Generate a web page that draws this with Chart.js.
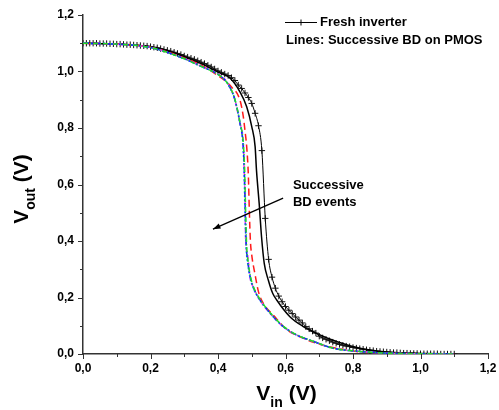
<!DOCTYPE html>
<html>
<head>
<meta charset="utf-8">
<script src="https://cdn.jsdelivr.net/npm/chart.js@4/dist/chart.umd.min.js"></script>
<style>
html,body{margin:0;padding:0;background:#fff;}
#wrap{width:499px;height:410px;position:relative;}
</style>
</head>
<body>
<div id="wrap"><canvas id="c" width="499" height="410"></canvas></div>
<script>
// ---- Data ----
const freshVin = [0.00,0.01,0.02,0.03,0.04,0.05,0.06,0.07,0.08,0.09,0.10,0.11,0.12,0.13,0.14,0.15,0.16,0.17,0.18,0.19,
  0.20,0.21,0.22,0.23,0.24,0.25,0.26,0.27,0.28,0.29,0.30,0.31,0.32,0.33,0.34,0.35,0.36,0.37,0.38,0.39,
  0.40,0.41,0.42,0.43,0.44,0.45,0.46,0.47,0.48,0.49,0.50,0.51,0.52,0.53,0.54,0.55,0.56,0.57,0.58,0.59,
  0.60,0.61,0.62,0.63,0.64,0.65,0.66,0.67,0.68,0.69,0.70,0.71,0.72,0.73,0.74,0.75,0.76,0.77,0.78,0.79,
  0.80,0.81,0.82,0.83,0.84,0.85,0.86,0.87,0.88,0.89,0.90,0.91,0.92,0.93,0.94,0.95,0.96,0.97,0.98,0.99,
  1.00,1.01,1.02,1.03,1.04,1.05,1.06,1.07,1.08,1.09,1.10];
const freshVout = [1.100,1.100,1.100,1.100,1.100,1.099,1.099,1.099,1.098,1.098,1.097,1.097,1.096,1.095,1.095,1.094,1.093,1.092,1.091,1.090,
  1.088,1.086,1.084,1.081,1.078,1.075,1.072,1.068,1.064,1.060,1.055,1.051,1.047,1.043,1.038,1.033,1.028,1.022,1.016,1.009,
  1.002,0.997,0.991,0.986,0.978,0.968,0.952,0.940,0.924,0.908,0.887,0.852,0.808,0.720,0.480,0.335,0.272,0.233,0.205,0.185,
  0.168,0.155,0.143,0.131,0.120,0.110,0.097,0.089,0.081,0.074,0.063,0.057,0.052,0.047,0.042,0.038,0.034,0.031,0.028,0.026,
  0.023,0.021,0.019,0.017,0.015,0.013,0.012,0.010,0.009,0.008,0.007,0.006,0.005,0.005,0.004,0.003,0.003,0.002,0.002,0.002,
  0.001,0.001,0.001,0.001,0.001,0.001,0.000,0.000,0.000,0.000,0.000];

const bd1Vin  = [0.00,0.10,0.20,0.25,0.30,0.35,0.40,0.436,0.465,0.485,0.500,0.510,0.514,0.518,0.522,0.529,0.537,0.549,0.562,0.574,0.613,0.653,0.692,0.751,0.821,0.890,0.950,1.000,1.100];
const bd1Vout = [1.100,1.097,1.087,1.073,1.052,1.028,0.998,0.976,0.928,0.875,0.805,0.734,0.651,0.590,0.533,0.415,0.321,0.262,0.215,0.191,0.132,0.097,0.073,0.044,0.020,0.008,0.004,0.002,0.000];

const bd2Vin  = [0.00,0.10,0.20,0.30,0.35,0.40,0.44,0.465,0.475,0.480,0.485,0.490,0.493,0.496,0.500,0.510,0.520,0.535,0.565,0.603,0.643,0.692,0.751,0.810,0.900,1.000,1.100];
const bd2Vout = [1.100,1.097,1.086,1.048,1.022,0.985,0.945,0.899,0.840,0.790,0.734,0.630,0.500,0.400,0.350,0.280,0.220,0.178,0.136,0.087,0.061,0.038,0.020,0.009,0.003,0.001,0.000];

const bd3Vin  = [0.00,0.10,0.20,0.30,0.35,0.40,0.416,0.430,0.450,0.465,0.475,0.479,0.481,0.483,0.485,0.490,0.497,0.507,0.522,0.556,0.595,0.635,0.685,0.743,0.802,0.900,1.000,1.100];
const bd3Vout = [1.100,1.097,1.085,1.045,1.018,0.990,0.975,0.955,0.902,0.820,0.745,0.650,0.550,0.450,0.380,0.320,0.270,0.232,0.198,0.144,0.097,0.067,0.044,0.020,0.011,0.003,0.001,0.000];

const bd4Vin  = [0.00,0.10,0.20,0.30,0.35,0.40,0.416,0.430,0.450,0.465,0.474,0.478,0.480,0.482,0.484,0.489,0.496,0.506,0.521,0.555,0.594,0.634,0.684,0.742,0.801,0.900,1.000,1.100];
const bd4Vout = [1.100,1.097,1.085,1.045,1.018,0.990,0.975,0.955,0.901,0.818,0.745,0.650,0.550,0.450,0.380,0.320,0.270,0.232,0.198,0.144,0.097,0.067,0.044,0.020,0.011,0.003,0.001,0.000];

const bd5Vin  = [0.00,0.10,0.20,0.30,0.35,0.40,0.416,0.430,0.450,0.465,0.474,0.477,0.479,0.481,0.483,0.488,0.495,0.505,0.520,0.554,0.593,0.633,0.683,0.741,0.800,0.900,1.000,1.100];
const bd5Vout = [1.100,1.097,1.085,1.045,1.018,0.990,0.975,0.954,0.900,0.817,0.744,0.650,0.550,0.450,0.380,0.320,0.270,0.232,0.198,0.144,0.097,0.067,0.044,0.020,0.011,0.003,0.001,0.000];

const bd6Vin  = [0.00,0.10,0.20,0.30,0.35,0.40,0.416,0.430,0.450,0.465,0.475,0.478,0.480,0.481,0.483,0.487,0.495,0.505,0.520,0.554,0.593,0.633,0.683,0.741,0.800,0.900,1.000,1.100];
const bd6Vout = [1.100,1.097,1.085,1.046,1.019,0.992,0.978,0.956,0.899,0.816,0.745,0.628,0.550,0.450,0.380,0.357,0.270,0.235,0.198,0.144,0.097,0.067,0.044,0.020,0.011,0.003,0.001,0.000];

const axisTicks = [0.0,0.2,0.4,0.6,0.8,1.0,1.2];
const legendLabels = ["Fresh inverter", "Lines: Successive BD on PMOS"];
const annotationLines = ["Successive", "BD events"];
const xTitle = ["V", "in", " (V)"];
const yTitle = ["V", "out", " (V)"];

function pts(xs, ys){ return xs.map((x,i)=>({x:x, y:ys[i]})); }

const FONT = "'Liberation Sans', Arial, sans-serif";

const dsBase = {showLine:true, pointRadius:0, fill:false, cubicInterpolationMode:'monotone'};

const datasets = [
  Object.assign({}, dsBase, {label:'BD green', data:pts(bd3Vin,bd3Vout), borderColor:'#22dd22', borderWidth:1.5, borderDash:[5,2,1,2]}),
  Object.assign({}, dsBase, {label:'BD blue', data:pts(bd4Vin,bd4Vout), borderColor:'#1a1aff', borderWidth:1.5, borderDash:[6,2,2,2]}),
  Object.assign({}, dsBase, {label:'BD cyan', data:pts(bd5Vin,bd5Vout), borderColor:'#22ccee', borderWidth:1.5, borderDash:[2,2]}),
  Object.assign({}, dsBase, {label:'BD magenta', data:pts(bd6Vin,bd6Vout), borderColor:'#ff22ff', borderWidth:1.5, borderDash:[4,3]}),
  Object.assign({}, dsBase, {label:'BD red', data:pts(bd2Vin,bd2Vout), borderColor:'#ff1a1a', borderWidth:1.5, borderDash:[7,4]}),
  Object.assign({}, dsBase, {label:'BD 1', data:pts(bd1Vin,bd1Vout), borderColor:'#000', borderWidth:1.5}),
  Object.assign({}, dsBase, {label:'Fresh inverter', data:pts(freshVin,freshVout), borderColor:'#000', borderWidth:1,
    pointRadius:3.2, pointStyle:'cross', pointBorderColor:'#111', pointBorderWidth:1, pointBackgroundColor:'#111'})
];

function fmt(v){
  const r = Math.round(v*10);
  if (r % 2 !== 0) return '';
  return (r/10).toFixed(1).replace('.', ',');
}

const overlay = {
  id:'overlay',
  afterDraw(chart){
    const ctx = chart.ctx, ca = chart.chartArea;
    const xs = chart.scales.x, ys = chart.scales.y;
    ctx.save();
    // tick marks (major/minor) outward
    ctx.strokeStyle = '#333'; ctx.lineWidth = 1;
    xs.ticks.forEach(t=>{
      const px = Math.round(xs.getPixelForValue(t.value)) + 0.5;
      const major = Math.round(t.value*10) % 2 === 0;
      ctx.beginPath(); ctx.moveTo(px, ca.bottom); ctx.lineTo(px, ca.bottom + (major?5:3)); ctx.stroke();
    });
    ys.ticks.forEach(t=>{
      const py = Math.round(ys.getPixelForValue(t.value)) + 0.5;
      const major = Math.round(t.value*10) % 2 === 0;
      ctx.beginPath(); ctx.moveTo(ca.left, py); ctx.lineTo(ca.left - (major?5:3), py); ctx.stroke();
    });

    // x title with subscript
    ctx.fillStyle = '#000';
    ctx.textBaseline = 'alphabetic';
    ctx.textAlign = 'left';
    const big = 'bold 21px ' + FONT, small = 'bold 14px ' + FONT;
    function drawTitle(parts, cx, base){
      ctx.font = big; const w0 = ctx.measureText(parts[0]).width;
      ctx.font = small; const w1 = ctx.measureText(parts[1]).width;
      ctx.font = big; const w2 = ctx.measureText(parts[2]).width;
      let x = cx - (w0+w1+w2)/2;
      ctx.font = big; ctx.fillText(parts[0], x, base); x += w0;
      ctx.font = small; ctx.fillText(parts[1], x, base + 7); x += w1;
      ctx.font = big; ctx.fillText(parts[2], x, base);
    }
    drawTitle(xTitle, (ca.left+ca.right)/2 + 1, 400);
    ctx.save();
    ctx.translate(28, 189);
    ctx.rotate(-Math.PI/2);
    drawTitle(yTitle, 0, 0);
    ctx.restore();

    // legend
    ctx.strokeStyle = '#000'; ctx.lineWidth = 1;
    const ly = 22.5;
    ctx.beginPath(); ctx.moveTo(285, ly); ctx.lineTo(317, ly); ctx.stroke();
    ctx.beginPath(); ctx.moveTo(301, ly-3); ctx.lineTo(301, ly+3); ctx.moveTo(298, ly); ctx.lineTo(304, ly); ctx.stroke();
    ctx.font = 'bold 13px ' + FONT;
    ctx.textBaseline = 'middle';
    ctx.fillText(legendLabels[0], 320, 22);
    ctx.fillText(legendLabels[1], 286, 40);

    // annotation arrow + text
    const ax0 = xs.getPixelForValue(0.593), ay0 = ys.getPixelForValue(0.552);
    const ax1 = xs.getPixelForValue(0.385), ay1 = ys.getPixelForValue(0.442);
    ctx.lineWidth = 1.3;
    ctx.beginPath(); ctx.moveTo(ax0, ay0); ctx.lineTo(ax1, ay1); ctx.stroke();
    const ang = Math.atan2(ay1-ay0, ax1-ax0);
    ctx.beginPath();
    ctx.moveTo(ax1, ay1);
    ctx.lineTo(ax1 - 8*Math.cos(ang-0.35), ay1 - 8*Math.sin(ang-0.35));
    ctx.lineTo(ax1 - 8*Math.cos(ang+0.35), ay1 - 8*Math.sin(ang+0.35));
    ctx.closePath(); ctx.fillStyle = '#000'; ctx.fill();
    const tx = xs.getPixelForValue(0.622);
    ctx.fillText(annotationLines[0], tx, ys.getPixelForValue(0.596));
    ctx.fillText(annotationLines[1], tx, ys.getPixelForValue(0.536));
    ctx.restore();
  }
};

new Chart(document.getElementById('c'), {
  type:'scatter',
  data:{datasets:datasets},
  options:{
    responsive:false,
    animation:false,
    devicePixelRatio:1,
    layout:{padding:{top:15, right:11, left:0, bottom:0}},
    plugins:{legend:{display:false}, tooltip:{enabled:false}},
    scales:{
      x:{
        type:'linear', min:0, max:1.2,
        afterBuildTicks(s){ const t=[]; for (let i=0;i<=12;i++) t.push({value: i/10}); s.ticks = t; },
        afterFit(s){ s.height = 56; },
        grid:{display:true, drawOnChartArea:false, drawTicks:true, tickLength:5, color:'rgba(0,0,0,0)'},
        border:{display:true, color:'#333', width:1.5},
        ticks:{autoSkip:false, maxRotation:0, padding:2, color:'#000', font:{family:FONT, size:12, weight:'bold'}, callback:(v)=>fmt(v)},
        title:{display:false}
      },
      y:{
        type:'linear', min:0, max:1.2,
        afterBuildTicks(s){ const t=[]; for (let i=0;i<=12;i++) t.push({value: i/10}); s.ticks = t; },
        afterFit(s){ s.width = 83; },
        grid:{display:true, drawOnChartArea:false, drawTicks:true, tickLength:5, color:'rgba(0,0,0,0)'},
        border:{display:true, color:'#333', width:1.5},
        ticks:{autoSkip:false, padding:4, color:'#000', font:{family:FONT, size:12, weight:'bold'}, callback:(v)=>fmt(v)},
        title:{display:false}
      }
    }
  },
  plugins:[overlay]
});
</script>
</body>
</html>
